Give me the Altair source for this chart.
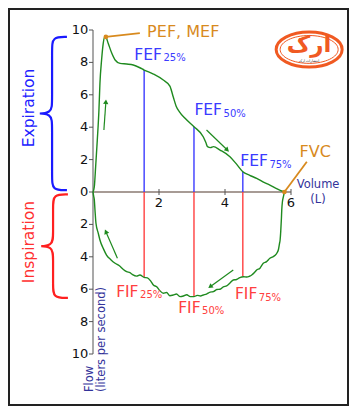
import math
import altair as alt
import pandas as pd

# ---------------- data ----------------
exp_volume = [0, 0.04, 0.08, 0.13, 0.18, 0.21, 0.26, 0.31, 0.36, 0.39,
              0.46, 0.57, 0.67, 0.82, 1.02, 1.22, 1.42, 1.55, 1.83, 2.13,
              2.33, 2.43, 2.52, 2.62, 2.79, 3.06, 3.34, 3.42, 3.47, 3.56,
              3.65, 3.85, 4.15, 4.35, 4.54, 4.75, 4.96, 5.15, 5.36, 5.58,
              5.8]
exp_flow = [0, 0.33, 1.56, 3.2, 5.06, 6.7, 8.15, 9.18, 9.59, 9.57,
            9.18, 8.56, 8.15, 7.94, 7.9, 7.84, 7.67, 7.53, 7.28, 6.91,
            6.54, 5.88, 5.3, 4.95, 4.55, 4.03, 3.41, 3.05, 2.8, 2.74,
            2.8, 2.59, 2.18, 1.72, 1.25, 1.03, 0.84, 0.63, 0.43, 0.2,
            0.0]

insp_volume = [0, 0.02, 0.04, 0.06, 0.09, 0.16, 0.21, 0.31, 0.41, 0.54,
               0.67, 0.8, 0.92, 1.02, 1.12, 1.2, 1.32, 1.42, 1.55, 1.65,
               1.75, 1.83, 1.93, 2.03, 2.13, 2.23, 2.33, 2.43, 2.53, 2.64,
               2.74, 2.84, 2.95, 3.06, 3.16, 3.26, 3.34, 3.44, 3.55, 3.65,
               3.75, 3.85, 3.95, 4.05, 4.15, 4.25, 4.35, 4.45, 4.56, 4.66,
               4.74, 4.81, 4.9, 4.96, 5.06, 5.16, 5.26, 5.36, 5.45, 5.52,
               5.57, 5.62, 5.65, 5.67, 5.69, 5.71, 5.72, 5.74, 5.77, 5.8]
insp_flow = [0, -0.25, -0.49, -1.11, -1.93, -2.55, -2.96, -3.48, -3.89, -4.18,
             -4.40, -4.55, -4.78, -4.92, -4.98, -5.1, -5.19, -5.12, -5.27, -5.3,
             -5.5, -5.74, -5.85, -6.1, -6.25, -6.2, -6.4, -6.36, -6.3, -6.46,
             -6.42, -6.34, -6.46, -6.46, -6.38, -6.42, -6.36, -6.3, -6.18, -6.15,
             -6.02, -6.0, -5.85, -5.8, -5.62, -5.43, -5.4, -5.28, -5.23, -5.25,
             -5.2, -5.12, -4.95, -4.81, -4.7, -4.40, -4.3, -4.09, -4.0, -3.9,
             -3.78, -3.55, -3.2, -2.96, -2.4, -1.6, -1.11, -0.6, -0.29, 0]

pct_names = ["25%", "50%", "75%"]
mark_volume = [1.55, 3.06, 4.54]
fef_flow = [7.53, 4.03, 1.25]
fif_flow = [-5.27, -6.46, -5.2]

pef_point = [0.39, 9.57]
fvc_point = [5.8, 0.0]

y_ticks = [10, 8, 6, 4, 2, 0, -2, -4, -6, -8, -10]
x_ticks = [2, 4, 6]

# annotation anchors (data units)
fef_label_x = [2.09, 3.91, 5.30]
fef_label_y = [8.46, 5.06, 1.91]
fif_label_x = [1.38, 3.26, 4.98]
fif_label_y = [-6.17, -7.16, -6.30]

arrows_x1 = [0.33, 3.44, 0.74, 4.25]
arrows_y1 = [3.83, 3.83, -4.09, -4.81]
arrows_x2 = [0.39, 4.07, 0.39, 3.55]
arrows_y2 = [5.57, 2.59, -2.45, -5.85]

# ---------------- layout ----------------
W, H, PAD = 339, 396, 1
PX_L, PX_F = 33.0, 16.2
X0, Y0 = 93 - 8 - PAD, 192 - 8 - PAD
XMIN = -X0 / PX_L
XMAX = XMIN + W / PX_L
YMAX = Y0 / PX_F
YMIN = YMAX - H / PX_F

FONT = "DejaVu Sans"
GREEN = "#1f8a1f"
BLUE = "#3b3bff"
RED = "#ff4040"
ORANGE = "#d88a1e"
NAVY = "#33339a"
LOGO = "#f05a22"

xs = alt.Scale(domain=[XMIN, XMAX], nice=False, zero=False)
ys = alt.Scale(domain=[YMIN, YMAX], nice=False, zero=False)


def X(f="x"):
    return alt.X(f"{f}:Q", scale=xs, axis=None)


def Y(f="y"):
    return alt.Y(f"{f}:Q", scale=ys, axis=None)


# ---------------- axes ----------------
axis_y = alt.Chart(pd.DataFrame({"x": [0], "y": [-10], "y2": [10]})).mark_rule(
    color="#8c8c8c", strokeWidth=1.5).encode(x=X(), y=Y(), y2="y2:Q")
axis_x = alt.Chart(pd.DataFrame({"x": [0], "x2": [6], "y": [0]})).mark_rule(
    color="#8a7a72", strokeWidth=1.5).encode(x=X(), x2="x2:Q", y=Y())

ytk = pd.DataFrame({"y": y_ticks, "x": [-4 / PX_L] * len(y_ticks), "x2": [0] * len(y_ticks),
                    "lx": [-4.8 / PX_L] * len(y_ticks),
                    "label": [str(abs(v)) for v in y_ticks]})
ytick_rules = alt.Chart(ytk).mark_rule(color="#555555", strokeWidth=1).encode(
    x=X(), x2="x2:Q", y=Y())
ytick_text = alt.Chart(ytk).mark_text(font=FONT, fontSize=13, align="right",
                                      baseline="middle", color="#111111").encode(
    x=X("lx"), y=Y(), text="label:N")

xtk = pd.DataFrame({"x": x_ticks, "y": [-3 / PX_F] * 3, "y2": [3 / PX_F] * 3,
                    "ly": [-11 / PX_F] * 3, "label": [str(v) for v in x_ticks]})
xtick_rules = alt.Chart(xtk).mark_rule(color="#555555", strokeWidth=1).encode(
    x=X(), y=Y(), y2="y2:Q")
xtick_text = alt.Chart(xtk).mark_text(font=FONT, fontSize=13, align="center",
                                      baseline="middle", color="#111111").encode(
    x=X(), y=Y("ly"), text="label:N")

# ---------------- FEF / FIF lines ----------------
fef_df = pd.DataFrame({"x": mark_volume, "y": [0] * 3, "y2": fef_flow})
fif_df = pd.DataFrame({"x": mark_volume, "y": [0] * 3, "y2": fif_flow})
fef_rules = alt.Chart(fef_df).mark_rule(color=BLUE, strokeWidth=1.4).encode(
    x=X(), y=Y(), y2="y2:Q")
fif_rules = alt.Chart(fif_df).mark_rule(color=RED, strokeWidth=1.4).encode(
    x=X(), y=Y(), y2="y2:Q")

# ---------------- curve ----------------
curve_df = pd.DataFrame({
    "x": exp_volume + insp_volume,
    "y": exp_flow + insp_flow,
    "phase": ["exp"] * len(exp_volume) + ["insp"] * len(insp_volume),
    "order": list(range(len(exp_volume))) + list(range(len(insp_volume))),
})
curve = alt.Chart(curve_df).mark_line(color=GREEN, strokeWidth=1.4,
                                      interpolate="monotone").encode(
    x=X(), y=Y(), detail="phase:N", order="order:Q")

# ---------------- arrows ----------------
ang = []
for a, b, c, d in zip(arrows_x1, arrows_y1, arrows_x2, arrows_y2):
    dx = (c - a) * PX_L
    dy = -(d - b) * PX_F
    ang.append(math.degrees(math.atan2(dx, -dy)) % 360)
arr_df = pd.DataFrame({"x": arrows_x1, "y": arrows_y1, "x2": arrows_x2,
                       "y2": arrows_y2, "angle": ang})
arrow_lines = alt.Chart(arr_df).mark_rule(color=GREEN, strokeWidth=1.2).encode(
    x=X(), y=Y(), x2="x2:Q", y2="y2:Q")
arrow_heads = alt.Chart(arr_df).mark_point(shape="triangle-up", filled=True,
                                           size=28, color=GREEN, opacity=1).encode(
    x=X("x2"), y=Y("y2"), angle=alt.Angle("angle:Q", scale=None))

# ---------------- PEF / FVC callouts ----------------
call_df = pd.DataFrame({"x": [pef_point[0], fvc_point[0]], "y": [pef_point[1], fvc_point[1]],
                        "x2": [1.42, 6.48], "y2": [9.81, 1.87]})
call_lines = alt.Chart(call_df).mark_rule(color=ORANGE, strokeWidth=1.8).encode(
    x=X(), y=Y(), x2="x2:Q", y2="y2:Q")
call_dots = alt.Chart(call_df).mark_point(filled=True, size=22, color=ORANGE,
                                          opacity=1).encode(x=X(), y=Y())
call_text = alt.Chart(pd.DataFrame({"x": [1.64, 6.26], "y": [9.88, 2.47],
                                    "t": ["PEF, MEF", "FVC"]})).mark_text(
    font=FONT, fontSize=16, align="left", baseline="middle", color=ORANGE).encode(
    x=X(), y=Y(), text="t:N")

# ---------------- FEF / FIF labels ----------------
def label_layers(names, lx, ly, color):
    df = pd.DataFrame({"x": lx, "y": ly, "name": [names] * 3, "sub": pct_names})
    main = alt.Chart(df).mark_text(font=FONT, fontSize=15.5, align="right",
                                   baseline="middle", color=color).encode(
        x=X(), y=Y(), text="name:N")
    sub = alt.Chart(df).mark_text(font=FONT, fontSize=10, align="left",
                                  baseline="middle", color=color, dx=1.5, dy=3.5).encode(
        x=X(), y=Y(), text="sub:N")
    return [main, sub]


fef_labels = label_layers("FEF", fef_label_x, fef_label_y, BLUE)
fif_labels = label_layers("FIF", fif_label_x, fif_label_y, RED)

# ---------------- braces ----------------
def brace(top, bot, x_tip, x_mid, x_cusp_ctrl, r):
    ym = (top + bot) / 2
    pts = [(x_tip, top), (x_mid, top), (x_mid, top - r), (x_mid, ym + r),
           (x_mid, ym), (x_cusp_ctrl, ym), (x_mid, ym), (x_mid, ym - r),
           (x_mid, bot + r), (x_mid, bot), (x_tip, bot)]
    return pts


def brace_chart(pts, color):
    df = pd.DataFrame({"x": [p[0] for p in pts], "y": [p[1] for p in pts],
                       "o": list(range(len(pts)))})
    return alt.Chart(df).mark_line(color=color, strokeWidth=2.2,
                                   interpolate="basis").encode(
        x=X(), y=Y(), order="o:Q")


brace_exp = brace_chart(brace(9.57, 0.12, -0.79, -1.24, -1.80, 0.75), "#1a1aff")
brace_insp = brace_chart(brace(-0.15, -6.54, -0.76, -1.21, -1.75, 0.75), "#ff2020")

side_text = alt.Chart(pd.DataFrame({"x": [-1.94, -1.94], "y": [5.19, -3.09],
                                    "t": ["Expiration", "Inspiration"],
                                    "c": ["e", "i"]})).mark_text(
    font=FONT, fontSize=15.5, angle=270, align="center", baseline="middle").encode(
    x=X(), y=Y(), text="t:N",
    color=alt.Color("c:N", scale=alt.Scale(domain=["e", "i"], range=["#2020ff", "#ff3030"]),
                    legend=None))

# ---------------- axis titles ----------------
flow_text = alt.Chart(pd.DataFrame({"x": [-0.09, 0.27], "y": [-12.35, -12.35],
                                    "t": ["Flow", "(liters per second)"]})).mark_text(
    font=FONT, fontSize=11.5, angle=270, align="left", baseline="middle",
    color=NAVY).encode(x=X(), y=Y(), text="t:N")
vol_text = alt.Chart(pd.DataFrame({"x": [6.82, 6.82], "y": [0.43, -0.49],
                                   "t": ["Volume", "(L)"]})).mark_text(
    font=FONT, fontSize=11.5, align="center", baseline="middle",
    color=NAVY).encode(x=X(), y=Y(), text="t:N")

# ---------------- logo ----------------
ELLIPSE = "M -1 0 A 1 0.53 0 1 1 1 0 A 1 0.53 0 1 1 -1 0 Z"
ELLIPSE_IN = "M -1 0 A 1 0.48 0 1 1 1 0 A 1 0.48 0 1 1 -1 0 Z"
logo_df = pd.DataFrame({"x": [6.55], "y": [8.80]})
logo_outer = alt.Chart(logo_df).mark_point(shape=ELLIPSE, size=4356, filled=False,
                                           color=LOGO, strokeWidth=3, opacity=1).encode(
    x=X(), y=Y())
logo_inner = alt.Chart(logo_df).mark_point(shape=ELLIPSE_IN, size=3364, filled=False,
                                           color=LOGO, strokeWidth=1, opacity=1).encode(
    x=X(), y=Y())
logo_word = alt.Chart(logo_df).mark_text(font=FONT, fontSize=23, fontWeight="bold",
                                         color=LOGO, align="center", baseline="middle",
                                         dy=-4).encode(x=X(), y=Y(), text=alt.value("ارک"))
logo_small = alt.Chart(logo_df).mark_text(font=FONT, fontSize=3.5, color="#222222",
                                          align="center", baseline="middle",
                                          dy=12).encode(x=X(), y=Y(),
                                                        text=alt.value("انتشارات ارک"))

chart = alt.layer(
    axis_y, axis_x, ytick_rules, xtick_rules, ytick_text, xtick_text,
    fef_rules, fif_rules, curve, arrow_lines, arrow_heads,
    call_lines, call_dots, call_text, *fef_labels, *fif_labels,
    brace_exp, brace_insp, side_text, flow_text, vol_text,
    logo_outer, logo_inner, logo_word, logo_small,
).properties(
    width=W, height=H, padding=PAD, background="white",
    autosize=alt.AutoSizeParams(type="none"),
).configure_view(stroke="#222222", strokeWidth=2)

chart.save("out.html", embed_options={"renderer": "svg", "actions": False})
